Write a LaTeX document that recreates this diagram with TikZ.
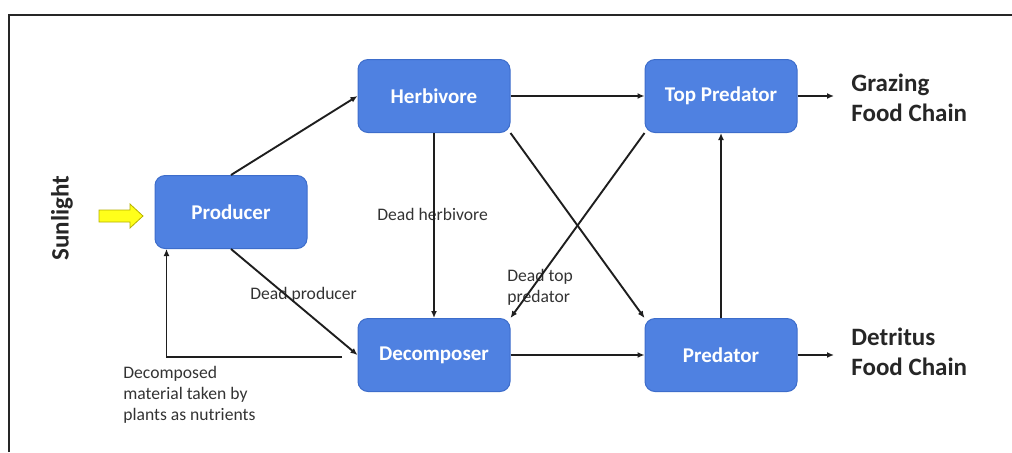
\documentclass[tikz,border=0pt]{standalone}
\usepackage{fontspec}
\setmainfont{Carlito}
\usetikzlibrary{arrows.meta,calc}
\definecolor{cBox}{HTML}{4F81E1}
\definecolor{cBoxEdge}{HTML}{3D6DCB}
\definecolor{cSun}{HTML}{FFFF1A}
\definecolor{cSunEdge}{HTML}{B5B000}
\definecolor{cLine}{HTML}{1E1E1E}
\tikzset{
  trophic/.style={rectangle,rounded corners=5pt,fill=cBox,draw=cBoxEdge,line width=.5pt,minimum width=76pt,minimum height=36.5pt,text=white,font=\fontsize{10.5}{12}\selectfont\bfseries},
  flow/.style={-{Latex[length=3.5pt,width=3pt]},line width=.95pt,cLine},
  note/.style={inner sep=0pt,align=left,text=black!80,font=\fontsize{8.8}{10.5}\selectfont},
  chain/.style={inner sep=0pt,align=left,text=black!85,font=\fontsize{12.5}{15}\selectfont\bfseries},
}

\begin{document}
\begin{tikzpicture}[x=0.5pt,y=-0.5pt]
  \useasboundingbox (0,0) rectangle (1012,452);
  % ---------------- frame
  \draw[line width=1.2pt,black!85] (9,452) -- (9,15) -- (1012,15);
  % ---------------- trophic levels
  \node[trophic] (prod) at (231,212) {Producer};
  \node[trophic] (herb) at (434,96) {Herbivore};
  \node[trophic] (top)  at (721,96) {Top Predator};
  \node[trophic] (dec)  at (434,355) {Decomposer};
  \node[trophic] (pred) at (721,355) {Predator};
  % ---------------- sunlight input
  \node[chain,rotate=90] (sun) at (62,218) {Sunlight};
  \draw[fill=cSun,draw=cSunEdge,line width=.4pt]
    (99,210) -- (130,210) -- (130,204) -- (143,216) -- (130,228) -- (130,222) -- (99,222) -- cycle;
  % ---------------- labels
  \node[note,anchor=west] (dh) at (377,214) {Dead herbivore};
  \node[note,anchor=west] (dp) at (250,295) {Dead producer};
  \node[note,anchor=west] (dt) at (507,287) {Dead top\\predator};
  \node[note,anchor=west] (dm) at (123,395) {Decomposed\\material taken by\\plants as nutrients};
  \node[chain,anchor=west] (grz) at (851,98) {Grazing\\Food Chain};
  \node[chain,anchor=west] (det) at (851,352) {Detritus\\Food Chain};
  % ---------------- free ends
  \coordinate (grzEnd) at (834,96);
  \coordinate (detEnd) at (834,355);
  \coordinate (fbStart) at (342,357);
  % ---------------- energy flow
  \draw[flow] (prod.north) -- (herb.west);
  \draw[flow] (prod.south) -- (dec.west);
  \draw[flow] (herb.south) -- (dec.north);
  \draw[flow] (herb.east) -- (top.west);
  \draw[flow] (herb.south east) -- (pred.north west);
  \draw[flow] (top.south west) -- (dec.north east);
  \draw[flow] (dec.east) -- (pred.west);
  \draw[flow] (pred.north) -- (top.south);
  \draw[flow] (top.east) -- (grzEnd);
  \draw[flow] (pred.east) -- (detEnd);
  \draw[flow] (fbStart) -| ($(prod.south west)+(12,0)$);
\end{tikzpicture}
\end{document}
